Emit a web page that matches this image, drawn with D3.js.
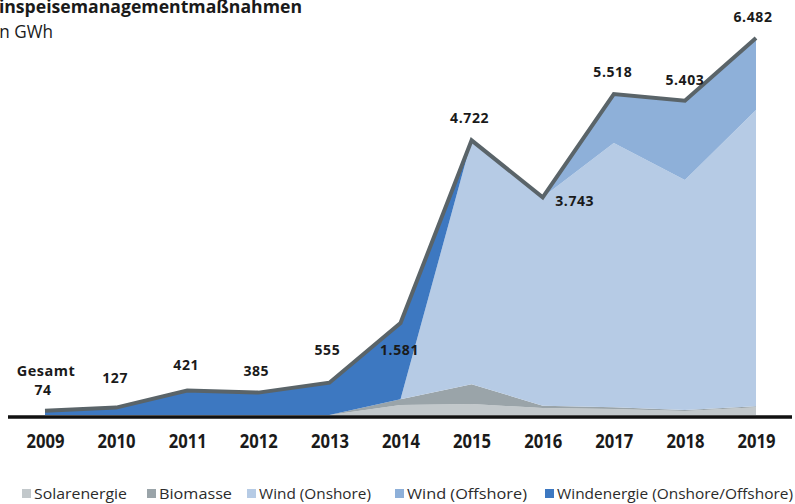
<!DOCTYPE html>
<html><head><meta charset="utf-8">
<script src="https://cdn.jsdelivr.net/npm/d3@7"></script>
<style>
body{margin:0;background:#fff;}
svg{display:block;font-family:"Open Sans",sans-serif;}
</style></head>
<body><svg id="c" width="795" height="504"></svg>
<script>
const years = [2009,2010,2011,2012,2013,2014,2015,2016,2017,2018,2019];
const solar    = [0,0,0,0,0,170,190,120,105,70,135];
const biomasse = [0,0,0,0,0,100,340,40,30,15,15];
const onshore  = [0,0,0,0,0,0,4192,3583,4541,3955,5093];
const offshore = [0,0,0,0,0,0,0,0,842,1363,1239];
const windAll  = [74,127,421,385,555,1311,0,0,0,0,0];
const totalLabels = ["74","127","421","385","555","1.581","4.722","3.743","5.518","5.403","6.482"];
const seriesNames = ["Solarenergie","Biomasse","Wind (Onshore)","Wind (Offshore)","Windenergie (Onshore/Offshore)"];
const colors = ["#c2c8cb","#9aa4a9","#b6cbe5","#8eb0d9","#3d78c1"];

const svg = d3.select("#c");
const x = d3.scaleLinear().domain([2009,2019]).range([45,756]);
const y = d3.scaleLinear().domain([0,6482]).range([415,38]);

const rows = years.map((yr,i)=>({year:yr,s0:solar[i],s1:biomasse[i],s2:onshore[i],s3:offshore[i],s4:windAll[i]}));
const keys = ["s0","s1","s2","s3","s4"];
const stack = d3.stack().keys(keys)(rows);
const area = d3.area().x(d=>x(d.data.year)).y0(d=>y(d[0])).y1(d=>y(d[1]));
svg.append("g").selectAll("path").data(stack).join("path")
  .attr("d",area).attr("fill",(d,i)=>colors[i]);

const totals = rows.map(r=>keys.reduce((a,k)=>a+r[k],0));
const line = d3.line().x((d,i)=>x(years[i])).y(d=>y(d));
svg.append("path").attr("d",line(totals)).attr("fill","none")
  .attr("stroke","#5a6469").attr("stroke-width",4).attr("stroke-linejoin","miter");

// axis line
svg.append("line").attr("x1",8).attr("x2",792).attr("y1",417).attr("y2",417)
  .attr("stroke","#111").attr("stroke-width",3.5);

// year labels
const xAxis = d3.axisBottom(x).tickValues(years).tickFormat(d3.format("d")).tickSize(0).tickPadding(0);
const ga = svg.append("g").attr("transform","translate(0,434)").call(xAxis);
ga.select(".domain").remove();
ga.selectAll("text").attr("font-family","Open Sans").attr("font-weight","bold")
  .attr("font-size",19).attr("fill","#1a1a1a").attr("dy","0.71em")
  .attr("textLength",38).attr("lengthAdjust","spacingAndGlyphs");

// value labels
const labelPos = [[-2,-16],[-1,-25],[-1,-21],[-2,-17],[-2,-28],[-1,32],[-2,-17],[32,9],[-1,-17],[0,-16],[-3,-16]];
svg.append("g").selectAll("text").data(totalLabels).join("text")
  .attr("x",(d,i)=>x(years[i])+labelPos[i][0])
  .attr("y",(d,i)=>y(totals[i])+labelPos[i][1])
  .attr("text-anchor","middle").attr("font-weight","bold").attr("font-size",14)
  .attr("letter-spacing",0.6).attr("fill","#1a1a1a").text(d=>d);
svg.append("text").attr("x",x(2009)+1).attr("y",376).attr("text-anchor","middle")
  .attr("font-weight","bold").attr("font-size",14.5).attr("letter-spacing",0.5).attr("fill","#1a1a1a").text("Gesamt");

// title (cut at the left edge as in the source)
svg.append("text").attr("x",-11).attr("y",13)
  .attr("font-weight","bold").attr("font-size",18).attr("fill","#1a1a1a")
  .attr("textLength",313).attr("lengthAdjust","spacingAndGlyphs")
  .text("Einspeisemanagementmaßnahmen");
svg.append("text").attr("x",-5).attr("y",38)
  .attr("font-size",18).attr("fill","#1a1a1a")
  .attr("textLength",58).attr("lengthAdjust","spacingAndGlyphs").text("in GWh");

// legend
const legX = [22,147,247,395,545];
const legLen = [93,73,112,120,236];
const lg = svg.append("g").selectAll("g").data(seriesNames).join("g")
  .attr("transform",(d,i)=>`translate(${legX[i]},489)`);
lg.append("rect").attr("width",9).attr("height",9).attr("fill",(d,i)=>colors[i]);
lg.append("text").attr("x",12).attr("y",9.5).attr("font-size",15).attr("fill","#2b2b2b")
  .attr("textLength",(d,i)=>legLen[i]).attr("lengthAdjust","spacingAndGlyphs").text(d=>d);
</script></body></html>
